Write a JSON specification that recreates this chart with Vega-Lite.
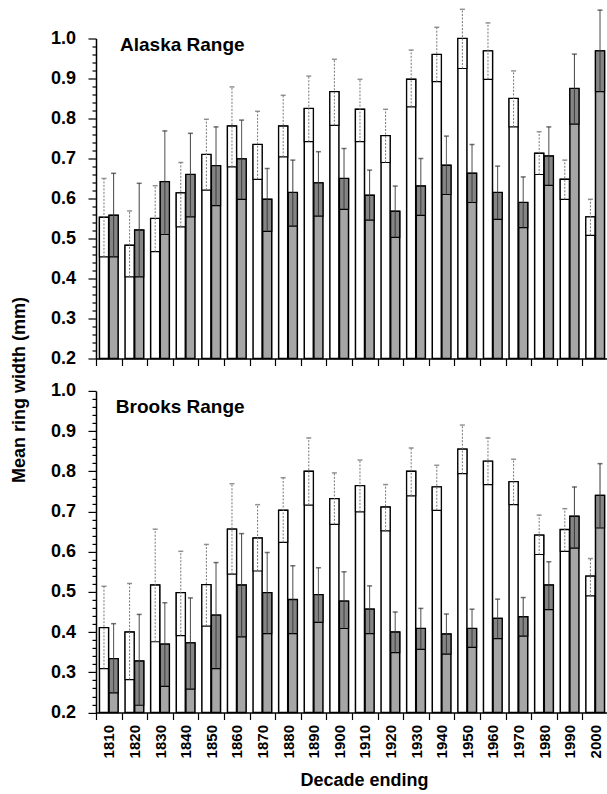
{
  "$schema": "https://vega.github.io/schema/vega-lite/v6.json",
  "padding": {"left": 10, "top": 8.5, "right": 0, "bottom": 5},
  "bounds": "flush",
  "spacing": 32.4,
  "background": "white",
  "config": {
    "view": {"stroke": null},
    "font": "Liberation Sans",
    "axis": {
      "labelFont": "Liberation Sans",
      "titleFont": "Liberation Sans",
      "labelFontWeight": "bold",
      "titleFontWeight": "bold",
      "labelColor": "black",
      "titleColor": "black",
      "domainColor": "black",
      "domainWidth": 1.5,
      "tickColor": "black",
      "tickWidth": 1.2,
      "grid": false,
      "labelOverlap": false
    }
  },
  "datasets": {
    "alaska": [
      {"decade":1810,"type":"white","mean":0.553,"lo":0.454,"hi":0.650},{"decade":1810,"type":"gray","mean":0.558,"lo":0.454,"hi":0.663},
      {"decade":1820,"type":"white","mean":0.483,"lo":0.404,"hi":0.569},{"decade":1820,"type":"gray","mean":0.521,"lo":0.404,"hi":0.638},
      {"decade":1830,"type":"white","mean":0.550,"lo":0.467,"hi":0.632},{"decade":1830,"type":"gray","mean":0.642,"lo":0.510,"hi":0.769},
      {"decade":1840,"type":"white","mean":0.614,"lo":0.529,"hi":0.690},{"decade":1840,"type":"gray","mean":0.660,"lo":0.554,"hi":0.763},
      {"decade":1850,"type":"white","mean":0.710,"lo":0.621,"hi":0.798},{"decade":1850,"type":"gray","mean":0.682,"lo":0.582,"hi":0.779},
      {"decade":1860,"type":"white","mean":0.781,"lo":0.679,"hi":0.879},{"decade":1860,"type":"gray","mean":0.699,"lo":0.598,"hi":0.796},
      {"decade":1870,"type":"white","mean":0.735,"lo":0.648,"hi":0.818},{"decade":1870,"type":"gray","mean":0.598,"lo":0.518,"hi":0.675},
      {"decade":1880,"type":"white","mean":0.781,"lo":0.704,"hi":0.858},{"decade":1880,"type":"gray","mean":0.615,"lo":0.531,"hi":0.696},
      {"decade":1890,"type":"white","mean":0.825,"lo":0.742,"hi":0.906},{"decade":1890,"type":"gray","mean":0.639,"lo":0.556,"hi":0.717},
      {"decade":1900,"type":"white","mean":0.867,"lo":0.783,"hi":0.948},{"decade":1900,"type":"gray","mean":0.650,"lo":0.573,"hi":0.725},
      {"decade":1910,"type":"white","mean":0.823,"lo":0.742,"hi":0.898},{"decade":1910,"type":"gray","mean":0.608,"lo":0.546,"hi":0.671},
      {"decade":1920,"type":"white","mean":0.757,"lo":0.690,"hi":0.823},{"decade":1920,"type":"gray","mean":0.568,"lo":0.503,"hi":0.631},
      {"decade":1930,"type":"white","mean":0.898,"lo":0.829,"hi":0.971},{"decade":1930,"type":"gray","mean":0.631,"lo":0.558,"hi":0.700},
      {"decade":1940,"type":"white","mean":0.960,"lo":0.892,"hi":1.028},{"decade":1940,"type":"gray","mean":0.683,"lo":0.610,"hi":0.756},
      {"decade":1950,"type":"white","mean":1.000,"lo":0.925,"hi":1.073},{"decade":1950,"type":"gray","mean":0.663,"lo":0.590,"hi":0.735},
      {"decade":1960,"type":"white","mean":0.969,"lo":0.898,"hi":1.039},{"decade":1960,"type":"gray","mean":0.615,"lo":0.548,"hi":0.681},
      {"decade":1970,"type":"white","mean":0.850,"lo":0.779,"hi":0.919},{"decade":1970,"type":"gray","mean":0.590,"lo":0.527,"hi":0.654},
      {"decade":1980,"type":"white","mean":0.713,"lo":0.660,"hi":0.767},{"decade":1980,"type":"gray","mean":0.706,"lo":0.633,"hi":0.779},
      {"decade":1990,"type":"white","mean":0.648,"lo":0.598,"hi":0.696},{"decade":1990,"type":"gray","mean":0.875,"lo":0.786,"hi":0.961},
      {"decade":2000,"type":"white","mean":0.554,"lo":0.508,"hi":0.598},{"decade":2000,"type":"gray","mean":0.969,"lo":0.867,"hi":1.071}
    ],
    "brooks": [
      {"decade":1810,"type":"white","mean":0.411,"lo":0.309,"hi":0.514},{"decade":1810,"type":"gray","mean":0.334,"lo":0.249,"hi":0.421},
      {"decade":1820,"type":"white","mean":0.400,"lo":0.282,"hi":0.521},{"decade":1820,"type":"gray","mean":0.328,"lo":0.218,"hi":0.444},
      {"decade":1830,"type":"white","mean":0.517,"lo":0.376,"hi":0.656},{"decade":1830,"type":"gray","mean":0.370,"lo":0.265,"hi":0.473},
      {"decade":1840,"type":"white","mean":0.498,"lo":0.391,"hi":0.601},{"decade":1840,"type":"gray","mean":0.373,"lo":0.258,"hi":0.485},
      {"decade":1850,"type":"white","mean":0.518,"lo":0.415,"hi":0.618},{"decade":1850,"type":"gray","mean":0.442,"lo":0.309,"hi":0.573},
      {"decade":1860,"type":"white","mean":0.656,"lo":0.544,"hi":0.769},{"decade":1860,"type":"gray","mean":0.517,"lo":0.388,"hi":0.645},
      {"decade":1870,"type":"white","mean":0.634,"lo":0.552,"hi":0.717},{"decade":1870,"type":"gray","mean":0.498,"lo":0.396,"hi":0.598},
      {"decade":1880,"type":"white","mean":0.703,"lo":0.623,"hi":0.784},{"decade":1880,"type":"gray","mean":0.481,"lo":0.396,"hi":0.565},
      {"decade":1890,"type":"white","mean":0.800,"lo":0.716,"hi":0.883},{"decade":1890,"type":"gray","mean":0.493,"lo":0.424,"hi":0.560},
      {"decade":1900,"type":"white","mean":0.732,"lo":0.668,"hi":0.796},{"decade":1900,"type":"gray","mean":0.477,"lo":0.409,"hi":0.550},
      {"decade":1910,"type":"white","mean":0.764,"lo":0.699,"hi":0.828},{"decade":1910,"type":"gray","mean":0.457,"lo":0.396,"hi":0.515},
      {"decade":1920,"type":"white","mean":0.711,"lo":0.652,"hi":0.767},{"decade":1920,"type":"gray","mean":0.400,"lo":0.349,"hi":0.450},
      {"decade":1930,"type":"white","mean":0.800,"lo":0.739,"hi":0.858},{"decade":1930,"type":"gray","mean":0.409,"lo":0.357,"hi":0.459},
      {"decade":1940,"type":"white","mean":0.761,"lo":0.703,"hi":0.815},{"decade":1940,"type":"gray","mean":0.395,"lo":0.345,"hi":0.445},
      {"decade":1950,"type":"white","mean":0.855,"lo":0.794,"hi":0.915},{"decade":1950,"type":"gray","mean":0.409,"lo":0.362,"hi":0.457},
      {"decade":1960,"type":"white","mean":0.825,"lo":0.767,"hi":0.883},{"decade":1960,"type":"gray","mean":0.434,"lo":0.384,"hi":0.482},
      {"decade":1970,"type":"white","mean":0.774,"lo":0.717,"hi":0.830},{"decade":1970,"type":"gray","mean":0.438,"lo":0.390,"hi":0.486},
      {"decade":1980,"type":"white","mean":0.641,"lo":0.593,"hi":0.691},{"decade":1980,"type":"gray","mean":0.517,"lo":0.456,"hi":0.575},
      {"decade":1990,"type":"white","mean":0.655,"lo":0.601,"hi":0.707},{"decade":1990,"type":"gray","mean":0.688,"lo":0.609,"hi":0.761},
      {"decade":2000,"type":"white","mean":0.539,"lo":0.490,"hi":0.583},{"decade":2000,"type":"gray","mean":0.740,"lo":0.659,"hi":0.819}
    ]
  },
  "vconcat": [
    {
      "width": 512,
      "height": 320,
      "data": {"name": "alaska"},
      "encoding": {
        "x": {
          "field": "decade", "type": "ordinal",
          "scale": {"paddingInner": 0.27, "paddingOuter": 0.135},
          "axis": {"labels": false, "title": null, "bandPosition": 0, "tickOffset": -3.46, "tickSize": 7}
        }
      },
      "layer": [
        {
          "mark": {"type": "bar", "stroke": "black", "strokeWidth": 1.5},
          "encoding": {
            "xOffset": {"field": "type", "scale": {"domain": ["white", "gray"], "paddingInner": 0.06}},
            "y": {
              "field": "mean", "type": "quantitative",
              "scale": {"domain": [0.2, 1.0], "nice": false, "zero": false},
              "axis": {
                "title": "Mean ring width (mm)",
                "titleFontSize": 18,
                "titleX": -71.5,
                "titleY": 351,
                "titleAngle": -90,
                "titleAlign": "center",
                "titleBaseline": "alphabetic",
                "tickCount": 40,
                "labelExpr": "round(datum.value*100) % 10 == 0 ? format(datum.value, '.1f') : ''",
                "labelOverlap": false,
                "tickSize": 8,
                "tickDash": {"condition": {"test": "round(datum.value*100) % 10 == 0", "value": [10, 0]}, "value": [4, 10]},
                "labelPadding": 12.5,
                "labelFontSize": 18
              }
            },
            "y2": {"datum": 0.2},
            "fill": {"condition": {"test": "datum.type === 'gray'", "value": "#a6a6a6"}, "value": "#ffffff"}
          }
        },
        {
          "mark": {"type": "bar", "stroke": "black", "strokeWidth": 1.2},
          "encoding": {
            "xOffset": {"field": "type", "scale": {"domain": ["white", "gray"], "paddingInner": 0.06}},
            "y": {"field": "lo", "type": "quantitative"},
            "y2": {"field": "mean"},
            "fill": {"condition": {"test": "datum.type === 'gray'", "value": "#858585"}, "value": "#ffffff"}
          }
        },
        {
          "mark": {"type": "rule", "strokeWidth": 1},
          "encoding": {
            "xOffset": {"field": "type", "scale": {"domain": ["white", "gray"], "paddingInner": 0.06}},
            "y": {"field": "lo", "type": "quantitative"},
            "y2": {"field": "hi"},
            "strokeDash": {"condition": {"test": "datum.type === 'white'", "value": [2, 1.5]}, "value": [1, 0]},
            "color": {"condition": {"test": "datum.type === 'white'", "value": "#777777"}, "value": "#333333"}
          }
        },
        {
          "mark": {"type": "tick", "size": 5, "thickness": 1.5},
          "encoding": {
            "xOffset": {"field": "type", "scale": {"domain": ["white", "gray"], "paddingInner": 0.06}},
            "y": {"field": "hi", "type": "quantitative"},
            "color": {"condition": {"test": "datum.type === 'white'", "value": "#666666"}, "value": "#333333"}
          }
        },
        {
          "data": {"values": [{}]},
          "mark": {"type": "text", "align": "left", "baseline": "alphabetic", "fontSize": 19, "fontWeight": "bold", "font": "Liberation Sans", "dx": 11.2, "color": "black"},
          "encoding": {
            "x": {"datum": 1810},
            "y": {"datum": 0.968},
            "text": {"value": "Alaska Range"}
          }
        }
      ]
    },
    {
      "width": 512,
      "height": 321.6,
      "data": {"name": "brooks"},
      "encoding": {
        "x": {
          "field": "decade", "type": "ordinal",
          "scale": {"paddingInner": 0.27, "paddingOuter": 0.135},
          "axis": {
            "title": "Decade ending", "titleFontSize": 18, "titlePadding": 14, "titleX": 268, "titleAlign": "center",
            "bandPosition": 0, "tickOffset": -3.46, "labelOffset": 3.46, "tickSize": 7,
            "labelAngle": -90, "labelFontSize": 15, "labelPadding": 5
          }
        }
      },
      "layer": [
        {
          "mark": {"type": "bar", "stroke": "black", "strokeWidth": 1.5},
          "encoding": {
            "xOffset": {"field": "type", "scale": {"domain": ["white", "gray"], "paddingInner": 0.06}},
            "y": {
              "field": "mean", "type": "quantitative",
              "scale": {"domain": [0.2, 1.0], "nice": false, "zero": false},
              "axis": {
                "title": null,
                "tickCount": 40,
                "labelExpr": "round(datum.value*100) % 10 == 0 ? format(datum.value, '.1f') : ''",
                "labelOverlap": false,
                "tickSize": 8,
                "tickDash": {"condition": {"test": "round(datum.value*100) % 10 == 0", "value": [10, 0]}, "value": [4, 10]},
                "labelPadding": 12.5,
                "labelFontSize": 18
              }
            },
            "y2": {"datum": 0.2},
            "fill": {"condition": {"test": "datum.type === 'gray'", "value": "#a6a6a6"}, "value": "#ffffff"}
          }
        },
        {
          "mark": {"type": "bar", "stroke": "black", "strokeWidth": 1.2},
          "encoding": {
            "xOffset": {"field": "type", "scale": {"domain": ["white", "gray"], "paddingInner": 0.06}},
            "y": {"field": "lo", "type": "quantitative"},
            "y2": {"field": "mean"},
            "fill": {"condition": {"test": "datum.type === 'gray'", "value": "#858585"}, "value": "#ffffff"}
          }
        },
        {
          "mark": {"type": "rule", "strokeWidth": 1},
          "encoding": {
            "xOffset": {"field": "type", "scale": {"domain": ["white", "gray"], "paddingInner": 0.06}},
            "y": {"field": "lo", "type": "quantitative"},
            "y2": {"field": "hi"},
            "strokeDash": {"condition": {"test": "datum.type === 'white'", "value": [2, 1.5]}, "value": [1, 0]},
            "color": {"condition": {"test": "datum.type === 'white'", "value": "#777777"}, "value": "#333333"}
          }
        },
        {
          "mark": {"type": "tick", "size": 5, "thickness": 1.5},
          "encoding": {
            "xOffset": {"field": "type", "scale": {"domain": ["white", "gray"], "paddingInner": 0.06}},
            "y": {"field": "hi", "type": "quantitative"},
            "color": {"condition": {"test": "datum.type === 'white'", "value": "#666666"}, "value": "#333333"}
          }
        },
        {
          "data": {"values": [{}]},
          "mark": {"type": "text", "align": "left", "baseline": "alphabetic", "fontSize": 19, "fontWeight": "bold", "font": "Liberation Sans", "dx": 7, "color": "black"},
          "encoding": {
            "x": {"datum": 1810},
            "y": {"datum": 0.944},
            "text": {"value": "Brooks Range"}
          }
        }
      ]
    }
  ]
}
